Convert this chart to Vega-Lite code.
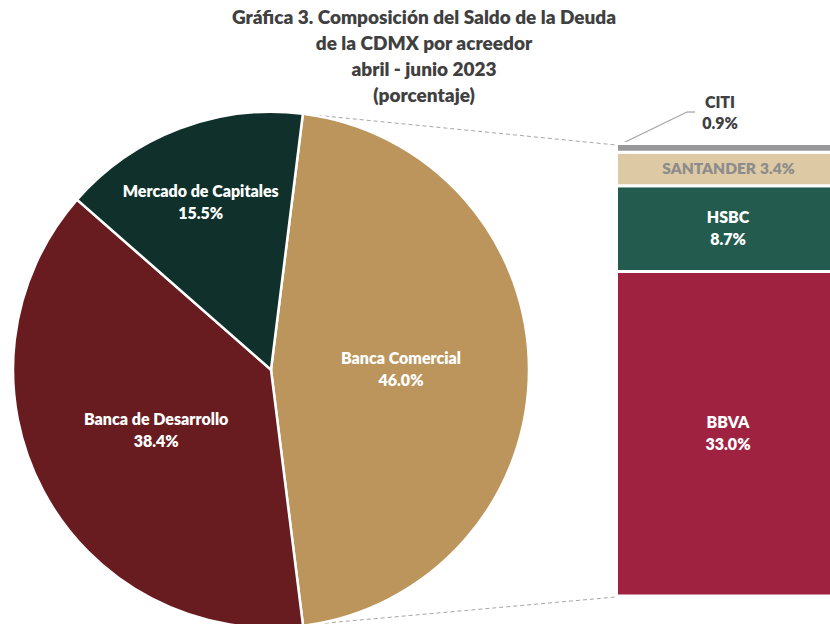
{
  "$schema": "https://vega.github.io/schema/vega-lite/v6.json",
  "width": 830,
  "height": 624,
  "padding": 0,
  "autosize": {"type": "none"},
  "background": "white",
  "title": {
    "text": ["Gráfica 3. Composición del Saldo de la Deuda", "de la CDMX por acreedor", "abril - junio 2023", "(porcentaje)"],
    "anchor": "middle",
    "frame": "group",
    "orient": "top",
    "baseline": "top",
    "offset": -106,
    "dx": 9,
    "font": "Lato",
    "fontSize": 19,
    "fontWeight": 800,
    "color": "#404040",
    "lineHeight": 26
  },
  "config": {"view": {"stroke": null}, "axis": {"disable": true}},
  "datasets": {
    "pie": [
      {"fuente": "Banca Comercial", "pct": 0.460, "orden": 1},
      {"fuente": "Banca de Desarrollo", "pct": 0.384, "orden": 2},
      {"fuente": "Mercado de Capitales", "pct": 0.155, "orden": 3}
    ],
    "bancos": [
      {"acreedor": "BBVA", "pct": 0.330, "orden": 1},
      {"acreedor": "HSBC", "pct": 0.087, "orden": 2},
      {"acreedor": "SANTANDER", "pct": 0.034, "orden": 3},
      {"acreedor": "CITI", "pct": 0.009, "orden": 4}
    ]
  },
  "layer": [
    {
      "data": {"values": [{}]},
      "mark": {"type": "rule", "color": "#a6a6a6", "strokeWidth": 1, "strokeDash": [4, 3]},
      "encoding": {
        "x": {"datum": 304, "type": "quantitative", "scale": {"domain": [0, 830], "nice": false, "zero": false}, "axis": null},
        "y": {"datum": 0.49, "type": "quantitative", "scale": {"domain": [-0.02846, 0.60588], "nice": false, "zero": false}, "axis": null},
        "x2": {"datum": 616},
        "y2": {"datum": 0.4585}
      }
    },
    {
      "data": {"values": [{}]},
      "mark": {"type": "rule", "color": "#a6a6a6", "strokeWidth": 1, "strokeDash": [4, 3]},
      "encoding": {
        "x": {"datum": 304, "type": "quantitative"},
        "y": {"datum": -0.0295, "type": "quantitative"},
        "x2": {"datum": 616},
        "y2": {"datum": -0.001}
      }
    },
    {
      "data": {"values": [{}]},
      "mark": {"type": "rule", "color": "#a6a6a6", "strokeWidth": 1.3},
      "encoding": {
        "x": {"datum": 617, "type": "quantitative"},
        "y": {"datum": 0.4575, "type": "quantitative"},
        "x2": {"datum": 687},
        "y2": {"datum": 0.492}
      }
    },
    {
      "data": {"values": [{}]},
      "mark": {"type": "rule", "color": "#a6a6a6", "strokeWidth": 1.3},
      "encoding": {
        "x": {"datum": 687, "type": "quantitative"},
        "y": {"datum": 0.492, "type": "quantitative"},
        "x2": {"datum": 695},
        "y2": {"datum": 0.492}
      }
    },
    {
      "data": {"name": "pie"},
      "mark": {"type": "arc", "radius": 258, "stroke": "white", "strokeWidth": 2.5},
      "encoding": {
        "x": {"datum": 271, "type": "quantitative"},
        "y": {"datum": 0.23, "type": "quantitative"},
        "theta": {"field": "pct", "type": "quantitative", "stack": true, "scale": {"range": [0.1239, 6.4071]}},
        "order": {"field": "orden", "type": "quantitative"},
        "color": {
          "field": "fuente", "type": "nominal", "legend": null,
          "scale": {
            "domain": ["Banca Comercial", "Banca de Desarrollo", "Mercado de Capitales", "BBVA", "HSBC", "SANTANDER", "CITI"],
            "range": ["#BC955C", "#691C20", "#10312B", "#9F2241", "#235B4E", "#DDC9A3", "#98989A"]
          }
        }
      }
    },
    {
      "data": {"name": "pie"},
      "mark": {"type": "text", "radius": 130, "dy": -11, "font": "Lato", "fontSize": 16, "fontWeight": 800, "color": "white"},
      "encoding": {
        "x": {"datum": 271, "type": "quantitative"},
        "y": {"datum": 0.23, "type": "quantitative"},
        "theta": {"field": "pct", "type": "quantitative", "stack": true},
        "order": {"field": "orden", "type": "quantitative"},
        "text": {"field": "fuente", "type": "nominal"},
        "opacity": {"condition": {"test": "datum.fuente !== 'Mercado de Capitales'", "value": 1}, "value": 0}
      }
    },
    {
      "data": {"name": "pie"},
      "mark": {"type": "text", "radius": 130, "dy": 11, "font": "Lato", "fontSize": 16, "fontWeight": 800, "color": "white"},
      "encoding": {
        "x": {"datum": 271, "type": "quantitative"},
        "y": {"datum": 0.23, "type": "quantitative"},
        "theta": {"field": "pct", "type": "quantitative", "stack": true},
        "order": {"field": "orden", "type": "quantitative"},
        "text": {"field": "pct", "type": "quantitative", "format": ".1%"},
        "opacity": {"condition": {"test": "datum.fuente !== 'Mercado de Capitales'", "value": 1}, "value": 0}
      }
    },
    {
      "data": {"name": "pie"},
      "mark": {"type": "text", "radius": 178, "dx": -7, "dy": -11, "font": "Lato", "fontSize": 16, "fontWeight": 800, "color": "white"},
      "encoding": {
        "x": {"datum": 271, "type": "quantitative"},
        "y": {"datum": 0.23, "type": "quantitative"},
        "theta": {"field": "pct", "type": "quantitative", "stack": true},
        "order": {"field": "orden", "type": "quantitative"},
        "text": {"field": "fuente", "type": "nominal"},
        "opacity": {"condition": {"test": "datum.fuente === 'Mercado de Capitales'", "value": 1}, "value": 0}
      }
    },
    {
      "data": {"name": "pie"},
      "mark": {"type": "text", "radius": 178, "dx": -7, "dy": 11, "font": "Lato", "fontSize": 16, "fontWeight": 800, "color": "white"},
      "encoding": {
        "x": {"datum": 271, "type": "quantitative"},
        "y": {"datum": 0.23, "type": "quantitative"},
        "theta": {"field": "pct", "type": "quantitative", "stack": true},
        "order": {"field": "orden", "type": "quantitative"},
        "text": {"field": "pct", "type": "quantitative", "format": ".1%"},
        "opacity": {"condition": {"test": "datum.fuente === 'Mercado de Capitales'", "value": 1}, "value": 0}
      }
    },
    {
      "data": {"name": "bancos"},
      "transform": [
        {"stack": "pct", "groupby": [], "sort": [{"field": "orden", "order": "ascending"}], "as": ["y0", "y1"]}
      ],
      "mark": {"type": "rect", "stroke": "white", "strokeWidth": 3},
      "encoding": {
        "x": {"datum": 616.5, "type": "quantitative"},
        "x2": {"datum": 842},
        "y": {"field": "y0", "type": "quantitative"},
        "y2": {"field": "y1"},
        "color": {"field": "acreedor", "type": "nominal", "legend": null}
      }
    },
    {
      "data": {"name": "bancos"},
      "mark": {"type": "text", "dy": -11, "font": "Lato", "fontSize": 16, "fontWeight": 800, "color": "white"},
      "encoding": {
        "x": {"datum": 728, "type": "quantitative"},
        "y": {"field": "pct", "type": "quantitative", "stack": "zero", "bandPosition": 0.5},
        "order": {"field": "orden", "type": "quantitative"},
        "text": {"field": "acreedor", "type": "nominal"},
        "opacity": {"condition": {"test": "datum.acreedor === 'BBVA' || datum.acreedor === 'HSBC'", "value": 1}, "value": 0}
      }
    },
    {
      "data": {"name": "bancos"},
      "mark": {"type": "text", "dy": 11, "font": "Lato", "fontSize": 16, "fontWeight": 800, "color": "white"},
      "encoding": {
        "x": {"datum": 728, "type": "quantitative"},
        "y": {"field": "pct", "type": "quantitative", "stack": "zero", "bandPosition": 0.5},
        "order": {"field": "orden", "type": "quantitative"},
        "text": {"field": "pct", "type": "quantitative", "format": ".1%"},
        "opacity": {"condition": {"test": "datum.acreedor === 'BBVA' || datum.acreedor === 'HSBC'", "value": 1}, "value": 0}
      }
    },
    {
      "data": {"name": "bancos"},
      "mark": {"type": "text", "align": "right", "dx": 28, "font": "Lato", "fontSize": 15.5, "fontWeight": 800, "color": "#8c8c8c"},
      "encoding": {
        "x": {"datum": 728, "type": "quantitative"},
        "y": {"field": "pct", "type": "quantitative", "stack": "zero", "bandPosition": 0.5},
        "order": {"field": "orden", "type": "quantitative"},
        "text": {"field": "acreedor", "type": "nominal"},
        "opacity": {"condition": {"test": "datum.acreedor === 'SANTANDER'", "value": 1}, "value": 0}
      }
    },
    {
      "data": {"name": "bancos"},
      "mark": {"type": "text", "align": "left", "dx": 32, "font": "Lato", "fontSize": 15.5, "fontWeight": 800, "color": "#8c8c8c"},
      "encoding": {
        "x": {"datum": 728, "type": "quantitative"},
        "y": {"field": "pct", "type": "quantitative", "stack": "zero", "bandPosition": 0.5},
        "order": {"field": "orden", "type": "quantitative"},
        "text": {"field": "pct", "type": "quantitative", "format": ".1%"},
        "opacity": {"condition": {"test": "datum.acreedor === 'SANTANDER'", "value": 1}, "value": 0}
      }
    },
    {
      "data": {"name": "bancos"},
      "mark": {"type": "text", "dx": -8, "dy": -45, "font": "Lato", "fontSize": 16, "fontWeight": 800, "color": "#404040"},
      "encoding": {
        "x": {"datum": 728, "type": "quantitative"},
        "y": {"field": "pct", "type": "quantitative", "stack": "zero", "bandPosition": 0.5},
        "order": {"field": "orden", "type": "quantitative"},
        "text": {"field": "acreedor", "type": "nominal"},
        "opacity": {"condition": {"test": "datum.acreedor === 'CITI'", "value": 1}, "value": 0}
      }
    },
    {
      "data": {"name": "bancos"},
      "mark": {"type": "text", "dx": -8, "dy": -24, "font": "Lato", "fontSize": 16, "fontWeight": 800, "color": "#404040"},
      "encoding": {
        "x": {"datum": 728, "type": "quantitative"},
        "y": {"field": "pct", "type": "quantitative", "stack": "zero", "bandPosition": 0.5},
        "order": {"field": "orden", "type": "quantitative"},
        "text": {"field": "pct", "type": "quantitative", "format": ".1%"},
        "opacity": {"condition": {"test": "datum.acreedor === 'CITI'", "value": 1}, "value": 0}
      }
    }
  ]
}
